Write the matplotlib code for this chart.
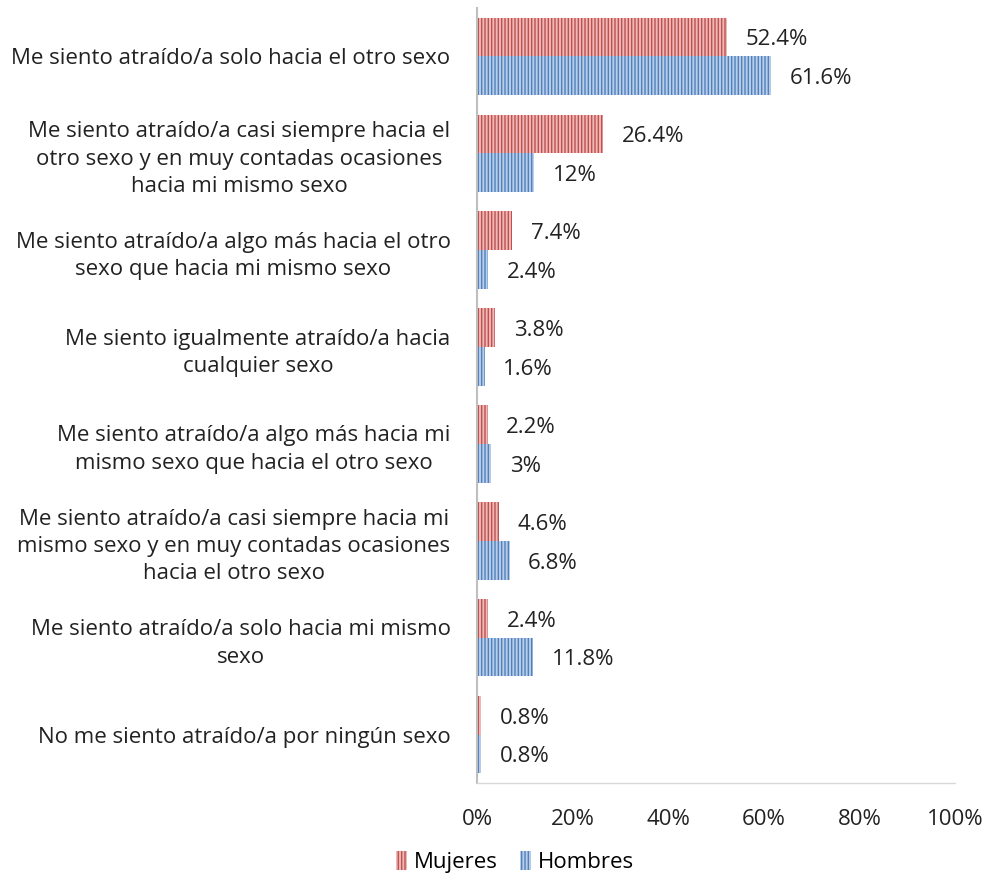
import matplotlib
matplotlib.use("Agg")
import matplotlib.pyplot as plt
from matplotlib.patches import Patch
import numpy as np

# DATA
categories = [
    "Me siento atraído/a solo hacia el otro sexo",
    "Me siento atraído/a casi siempre hacia el\notro sexo y en muy contadas ocasiones\nhacia mi mismo sexo",
    "Me siento atraído/a algo más hacia el otro\nsexo que hacia mi mismo sexo",
    "Me siento igualmente atraído/a hacia\ncualquier sexo",
    "Me siento atraído/a algo más hacia mi\nmismo sexo que hacia el otro sexo",
    "Me siento atraído/a casi siempre hacia mi\nmismo sexo y en muy contadas ocasiones\nhacia el otro sexo",
    "Me siento atraído/a solo hacia mi mismo\nsexo",
    "No me siento atraído/a por ningún sexo",
]
mujeres = [52.4, 26.4, 7.4, 3.8, 2.2, 4.6, 2.4, 0.8]
hombres = [61.6, 12, 2.4, 1.6, 3, 6.8, 11.8, 0.8]
mujeres_labels = ["52.4%", "26.4%", "7.4%", "3.8%", "2.2%", "4.6%", "2.4%", "0.8%"]
hombres_labels = ["61.6%", "12%", "2.4%", "1.6%", "3%", "6.8%", "11.8%", "0.8%"]
xticks = [0, 20, 40, 60, 80, 100]

plt.rcParams['font.family'] = ['Open Sans', 'DejaVu Sans']
plt.rcParams['hatch.linewidth'] = 1.0

fs = 16
red_dark, red_light = "#C0504D", "#EDB8B7"
blue_dark, blue_light = "#4F81BD", "#B9CDE8"

fig = plt.figure(figsize=(9.91, 8.81), dpi=100)
ax = fig.add_axes([477/991, 1 - 783/881, (955-477)/991, (783-8)/881])

y = np.arange(len(categories))
h = 0.4
ax.barh(y - h/2, mujeres, height=h, color=red_light, edgecolor=red_dark,
        hatch="|||||", linewidth=0)
ax.barh(y + h/2, hombres, height=h, color=blue_light, edgecolor=blue_dark,
        hatch="|||||", linewidth=0)

for i in range(len(categories)):
    ax.text(mujeres[i] + 3.9, y[i] - h/2 + 0.03, mujeres_labels[i], va="center",
            ha="left", fontsize=fs, color="#222222")
    ax.text(hombres[i] + 3.9, y[i] + h/2 + 0.03, hombres_labels[i], va="center",
            ha="left", fontsize=fs, color="#222222")

ax.set_ylim(len(categories) - 0.5, -0.5)
ax.set_xlim(0, 100)
ax.set_yticks(y)
ax.set_yticklabels(categories, fontsize=fs, color="#222222", linespacing=1.4)
ax.set_xticks(xticks)
ax.set_xticklabels([f"{t}%" for t in xticks], fontsize=fs, color="#222222")
ax.tick_params(axis="both", length=0)
ax.tick_params(axis="x", pad=19)
ax.tick_params(axis="y", pad=19)
for lab in ax.get_yticklabels():
    lab.set_horizontalalignment("right")
    lab.set_multialignment("center")

for s in ["top", "right"]:
    ax.spines[s].set_visible(False)
ax.spines["left"].set_color("#BFBFBF")
ax.spines["left"].set_linewidth(1.5)
ax.spines["bottom"].set_color("#D9D9D9")
ax.spines["bottom"].set_linewidth(1.0)

handles = [
    Patch(facecolor=red_light, edgecolor=red_dark, hatch="|||||", linewidth=0, label="Mujeres"),
    Patch(facecolor=blue_light, edgecolor=blue_dark, hatch="|||||", linewidth=0, label="Hombres"),
]
fig.legend(handles=handles, loc="center", bbox_to_anchor=(515/991, 1 - 862/881),
           ncol=2, frameon=False, fontsize=fs, handlelength=0.5, handleheight=0.9,
           handletextpad=0.3, columnspacing=1.0)

fig.savefig("out.png", dpi=100)
